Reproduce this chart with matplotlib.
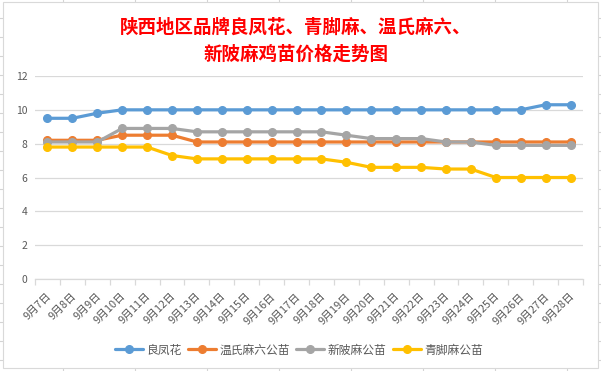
import matplotlib
matplotlib.use("Agg")
import matplotlib.pyplot as plt
import matplotlib.transforms as mtrans
from matplotlib.lines import Line2D
from matplotlib.patches import Rectangle

plt.rcParams['font.family'] = ['Noto Sans CJK SC', 'DejaVu Sans']

dates = ["9月7日", "9月8日", "9月9日", "9月10日", "9月11日", "9月12日", "9月13日",
         "9月14日", "9月15日", "9月16日", "9月17日", "9月18日", "9月19日", "9月20日",
         "9月21日", "9月22日", "9月23日", "9月24日", "9月25日", "9月26日", "9月27日", "9月28日"]
liangfenghua = [9.5, 9.5, 9.8, 10, 10, 10, 10, 10, 10, 10, 10, 10, 10, 10, 10, 10, 10, 10, 10, 10, 10.3, 10.3]
wenshi = [8.2, 8.2, 8.2, 8.5, 8.5, 8.5, 8.1, 8.1, 8.1, 8.1, 8.1, 8.1, 8.1, 8.1, 8.1, 8.1, 8.1, 8.1, 8.1, 8.1, 8.1, 8.1]
xinbo = [8.1, 8.1, 8.1, 8.9, 8.9, 8.9, 8.7, 8.7, 8.7, 8.7, 8.7, 8.7, 8.5, 8.3, 8.3, 8.3, 8.1, 8.1, 7.9, 7.9, 7.9, 7.9]
qingjiao = [7.8, 7.8, 7.8, 7.8, 7.8, 7.3, 7.1, 7.1, 7.1, 7.1, 7.1, 7.1, 6.9, 6.6, 6.6, 6.6, 6.5, 6.5, 6.0, 6.0, 6.0, 6.0]
series_names = ["良凤花", "温氏麻六公苗", "新陂麻公苗", "青脚麻公苗"]
colors = ["#5B9BD5", "#ED7D31", "#A5A5A5", "#FFC000"]
yticks = [0, 2, 4, 6, 8, 10, 12]

W, H = 601, 371
fig = plt.figure(figsize=(W / 100, H / 100), dpi=100)

def fx(px):
    return px / W

def fy(py):
    return 1 - py / H

# spreadsheet cell grid in the background
gcol = "#d4d4d4"
for cx in [63, 135, 207, 279, 351, 423, 495, 567]:
    fig.add_artist(Line2D([fx(cx), fx(cx)], [0, 1], color=gcol, lw=0.8, zorder=-3))
ry = 17.5
while ry < H:
    fig.add_artist(Line2D([0, 1], [fy(ry), fy(ry)], color=gcol, lw=0.8, zorder=-3))
    ry += 19
# chart area
fig.add_artist(Rectangle((fx(3.3), fy(368.3)), fx(598.3 - 3.3), (368.3 - 2.3) / H,
                         facecolor="white", edgecolor="#d9d9d9", lw=0.8,
                         transform=fig.transFigure, zorder=-2))

ax = fig.add_axes([fx(35), fy(279), fx(548), 203 / H])
ax.set_facecolor("none")
x = list(range(len(dates)))
for vals, name, c in zip([liangfenghua, wenshi, xinbo, qingjiao], series_names, colors):
    ax.plot(x, vals, color=c, lw=2.3, marker="o", markersize=5.5, label=name,
            solid_capstyle="round")

ax.set_xlim(-0.5, len(dates) - 0.5)
ax.set_ylim(0, 12)
ax.set_yticks(yticks)
ax.set_yticklabels([str(t) for t in yticks], fontsize=7.5, color="#595959")
ax.tick_params(axis="y", length=0, pad=5.5)
ax.grid(axis="y", color="#d9d9d9", lw=0.9)
ax.set_axisbelow(True)
for s in ["top", "right", "left"]:
    ax.spines[s].set_visible(False)
ax.spines["bottom"].set_color("#d9d9d9")
ax.spines["bottom"].set_linewidth(0.9)

ax.set_xticks(x)
ax.set_xticklabels(dates, rotation=45, ha="right", va="top", rotation_mode="anchor",
                   fontsize=7.8, color="#595959")
ax.tick_params(axis="x", which="major", length=0, pad=8.5)
ax.set_xticks([i - 0.5 for i in range(len(dates) + 1)], minor=True)
ax.tick_params(axis="x", which="minor", length=4.5, color="#d9d9d9", width=0.9)
offset = mtrans.ScaledTranslation(-1.5 / 100, 0, fig.dpi_scale_trans)
for lab in ax.get_xticklabels():
    lab.set_transform(lab.get_transform() + offset)

fig.text(fx(296), fy(27), "陕西地区品牌良凤花、青脚麻、温氏麻六、", color="red",
         fontsize=13.3, fontweight="bold", ha="center", va="center")
fig.text(fx(296), fy(54), "新陂麻鸡苗价格走势图", color="red",
         fontsize=13.3, fontweight="bold", ha="center", va="center")

fig.legend(loc="center", bbox_to_anchor=(fx(299), fy(350)), ncol=4, frameon=False,
           fontsize=8.5, handlelength=2.4, handletextpad=0.3, columnspacing=0.5,
           labelcolor="#595959")

fig.savefig("out.png", dpi=100)
